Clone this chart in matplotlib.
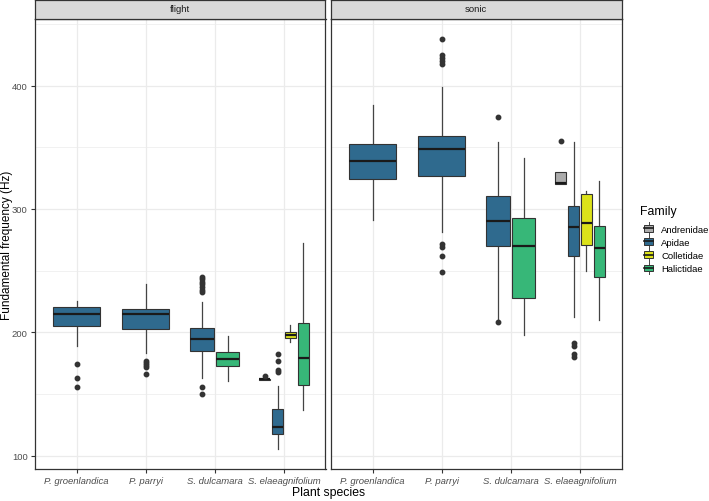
import matplotlib
matplotlib.use("Agg")
import matplotlib.pyplot as plt
from matplotlib.patches import Rectangle, Patch
from matplotlib.lines import Line2D
from matplotlib.legend_handler import HandlerBase

plt.rcParams['font.family'] = ['Liberation Sans', 'DejaVu Sans']

# ---------------- data ----------------
species = ["P. groenlandica", "P. parryi", "S. dulcamara", "S. elaeagnifolium"]
families = ["Andrenidae", "Apidae", "Colletidae", "Halictidae"]
family_colors = ["#ABABAB", "#2F6A8E", "#DCE21A", "#37B778"]
panels = ["flight", "sonic"]

# flight boxes
flight_species = [0, 1, 2, 2, 3, 3, 3, 3]
flight_family = [1, 1, 1, 3, 0, 1, 2, 3]
flight_whislo = [189.0, 183.0, 163.0, 160.5, 161.5, 105.4, 192.4, 137.2]
flight_q1 = [205.0, 203.0, 185.0, 173.0, 161.6, 117.3, 195.4, 157.3]
flight_med = [214.6, 214.6, 194.3, 178.4, 162.0, 123.0, 197.8, 179.4]
flight_q3 = [220.5, 219.2, 203.2, 183.8, 162.4, 137.6, 200.0, 207.3]
flight_whishi = [225.0, 239.4, 224.3, 197.3, 162.6, 156.8, 206.2, 272.2]
flight_fliers = [
    [174.0, 163.2, 155.4],
    [177.0, 175.2, 173.5, 171.8, 166.2],
    [245.0, 243.0, 241.0, 239.0, 236.5, 234.5, 232.5, 156.0, 150.0],
    [],
    [164.3],
    [182.4, 177.0, 169.7, 168.1],
    [],
    [],
]

# sonic boxes
sonic_species = [0, 1, 2, 2, 3, 3, 3, 3]
sonic_family = [1, 1, 1, 3, 0, 1, 2, 3]
sonic_whislo = [291.3, 281.0, 209.5, 198.1, 320.2, 212.2, 250.0, 210.2]
sonic_q1 = [324.0, 327.0, 269.7, 227.6, 320.2, 262.1, 270.8, 244.8]
sonic_med = [338.7, 348.9, 290.2, 270.2, 321.0, 285.1, 288.6, 268.4]
sonic_q3 = [353.0, 359.5, 310.3, 292.9, 330.3, 302.2, 312.4, 286.0]
sonic_whishi = [384.3, 398.6, 354.6, 341.1, 330.3, 354.0, 314.9, 323.0]
sonic_fliers = [
    [],
    [438.0, 425.0, 422.5, 420.0, 417.6, 271.5, 269.5, 262.2, 249.2],
    [374.3, 208.0],
    [],
    [355.4],
    [191.5, 189.0, 182.4, 180.0],
    [],
    [],
]

y_ticks = [100, 200, 300, 400]
y_minor = [150, 250, 350, 450]
y_limits = (89.2, 454.0)

panel_data = {
    "flight": (flight_species, flight_family, flight_whislo, flight_q1, flight_med,
               flight_q3, flight_whishi, flight_fliers),
    "sonic": (sonic_species, sonic_family, sonic_whislo, sonic_q1, sonic_med,
              sonic_q3, sonic_whishi, sonic_fliers),
}

# ---------------- style ----------------
W, H = 709, 502
DARK = "#333333"
WHISK = "#444444"
GRID = "#EBEBEB"
TICKC = "#4D4D4D"
group_width = 0.75
pad = 0.1
small = 6.8
big = 8.8


def dodge(sp_list, fam_list):
    pos, wid = [], []
    for s, f in zip(sp_list, fam_list):
        same = sorted(ff for ss, ff in zip(sp_list, fam_list) if ss == s)
        n = len(same)
        r = same.index(f)
        slot = group_width / n
        pos.append(s + 1 - group_width / 2 + (r + 0.5) * slot)
        wid.append(slot * (1 - pad))
    return pos, wid


class BoxHandler(HandlerBase):
    def create_artists(self, legend, orig_handle, xdescent, ydescent,
                       width, height, fontsize, trans):
        fc = orig_handle.get_facecolor()
        cx = -xdescent + width / 2
        bw = width * 0.58
        by0 = -ydescent + height * 0.17
        bh = height * 0.66
        w1 = Line2D([cx, cx], [-ydescent - 1, by0], color=WHISK, lw=0.7, transform=trans)
        w2 = Line2D([cx, cx], [by0 + bh, -ydescent + height + 1], color=WHISK, lw=0.7, transform=trans)
        rect = Rectangle((cx - bw / 2, by0), bw, bh, facecolor=fc, edgecolor=DARK,
                         lw=0.7, transform=trans)
        med = Line2D([cx - bw / 2, cx + bw / 2], [by0 + bh / 2] * 2, color="#1A1A1A",
                     lw=1.2, transform=trans)
        return [w1, w2, rect, med]


fig = plt.figure(figsize=(W / 100, H / 100), dpi=100)

panel_left = [35, 331]
panel_w = 290.5
panel_top, panel_bot = 20, 470

axes = []
for k, name in enumerate(panels):
    x0 = panel_left[k]
    ax = fig.add_axes([x0 / W, (H - panel_bot) / H, panel_w / W, (panel_bot - panel_top) / H])
    axes.append(ax)
    sp, fam, wlo, q1, med, q3, whi, fl = panel_data[name]
    pos, wid = dodge(sp, fam)
    stats = []
    for i in range(len(sp)):
        stats.append(dict(med=med[i], q1=q1[i], q3=q3[i], whislo=wlo[i],
                          whishi=whi[i], fliers=fl[i]))
    res = ax.bxp(stats, positions=pos, widths=wid, patch_artist=True,
                 showcaps=False, manage_ticks=False,
                 boxprops=dict(edgecolor=DARK, linewidth=0.8),
                 whiskerprops=dict(color=WHISK, linewidth=0.9),
                 medianprops=dict(color="#1A1A1A", linewidth=1.6),
                 flierprops=dict(marker="o", markersize=3.2, markerfacecolor=DARK,
                                 markeredgecolor=DARK, linestyle="none"))
    for b, f in zip(res["boxes"], fam):
        b.set_facecolor(family_colors[f])
        b.set_zorder(3)
    for key in ("whiskers", "medians", "fliers"):
        for a in res[key]:
            a.set_zorder(4 if key != "whiskers" else 2.5)

    ax.set_xlim(0.4, 4.6)
    ax.set_ylim(*y_limits)
    ax.set_xticks(range(1, len(species) + 1))
    ax.set_xticklabels(species, fontstyle="italic", fontsize=small, color=TICKC)
    ax.set_yticks(y_ticks)
    ax.set_yticks(y_minor, minor=True)
    ax.grid(True, which="major", color=GRID, linewidth=0.9, zorder=0)
    ax.grid(True, which="minor", axis="y", color=GRID, linewidth=0.5, zorder=0)
    ax.set_axisbelow(True)
    ax.tick_params(axis="both", which="major", length=3, width=0.8, color=DARK,
                   labelsize=small, labelcolor=TICKC, pad=2.2)
    ax.tick_params(axis="y", which="minor", length=0)
    if k == 1:
        ax.tick_params(axis="y", which="major", left=False, labelleft=False)
    for s in ax.spines.values():
        s.set_color(DARK)
        s.set_linewidth(0.9)

    # strip
    sax = fig.add_axes([x0 / W, (H - panel_top + 0.5) / H, panel_w / W, 19 / H])
    sax.set_facecolor("#D9D9D9")
    sax.set_xticks([])
    sax.set_yticks([])
    for s in sax.spines.values():
        s.set_color(DARK)
        s.set_linewidth(0.9)
    sax.text(0.5, 0.5, name, ha="center", va="center", fontsize=small,
             color="#1A1A1A", transform=sax.transAxes)

fig.text(7 / W, 1 - (panel_top + panel_bot) / 2 / H, "Fundamental frequency (Hz)",
         rotation=90, ha="center", va="center", fontsize=8.5)
fig.text((35 + 331 + panel_w) / 2 / W, 1 - 493 / H, "Plant species", ha="center",
         va="center", fontsize=big)

# legend: title as separate text, entries below
fig.text(640 / W, 1 - 212 / H, "Family", ha="left", va="center", fontsize=big)
handles = [Patch(facecolor=c) for c in family_colors]
leg = fig.legend(handles, families, loc="upper left",
                 bbox_to_anchor=(640 / W, 1 - 224.5 / H), frameon=False,
                 handler_map={Patch: BoxHandler()}, fontsize=small,
                 handlelength=1.8, handleheight=1.2,
                 labelspacing=0.33, handletextpad=0.45, borderaxespad=0,
                 borderpad=0)

fig.savefig("out.png", dpi=100)
